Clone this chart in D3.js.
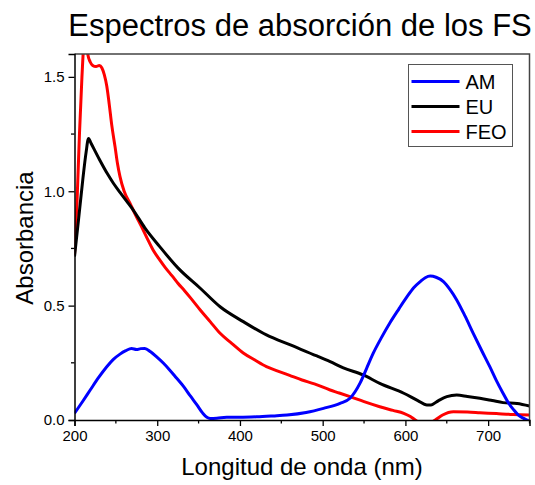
<!DOCTYPE html>
<html>
<head>
<meta charset="utf-8">
<script src="https://cdn.jsdelivr.net/npm/d3@7"></script>
<style>
  body { margin: 0; background: #fff; }
  text { font-family: "Liberation Sans", Arial, sans-serif; fill: #000; }
</style>
</head>
<body>
<div id="chart"></div>
<script>
// wavelengths (nm) and absorbance per spectrum
var amNm = [200, 210, 219, 229, 239, 247, 255, 262, 269, 275, 280, 285, 292, 299, 307, 315, 323, 332, 340, 348, 355, 360, 364, 372, 384, 400, 420, 440, 457, 480, 501, 521, 533, 545, 553, 561, 571, 581, 592, 602, 610, 618, 624, 630, 637, 646, 654, 662, 672, 682, 692, 702, 710, 718, 725, 731, 737, 743, 750];
var amAbs = [0.029, 0.082, 0.131, 0.185, 0.233, 0.265, 0.288, 0.303, 0.313, 0.308, 0.312, 0.313, 0.298, 0.277, 0.25, 0.219, 0.185, 0.146, 0.105, 0.066, 0.03, 0.012, 0.007, 0.008, 0.012, 0.012, 0.014, 0.018, 0.022, 0.033, 0.051, 0.073, 0.095, 0.16, 0.225, 0.291, 0.36, 0.423, 0.485, 0.539, 0.578, 0.605, 0.622, 0.629, 0.624, 0.605, 0.57, 0.525, 0.455, 0.379, 0.305, 0.233, 0.172, 0.117, 0.072, 0.044, 0.02, 0.007, -0.005];

var euNm = [200, 205, 210, 214, 217, 220, 230, 240, 247, 255, 265, 271, 285, 303, 325, 352, 376, 404, 432, 461, 493, 509, 525, 549, 569, 598, 615, 626, 631, 640, 650, 662, 675, 690, 705, 718, 735, 750];
var euAbs = [0.714, 0.88, 1.05, 1.17, 1.231, 1.21, 1.14, 1.075, 1.035, 0.995, 0.947, 0.918, 0.84, 0.758, 0.665, 0.576, 0.495, 0.43, 0.372, 0.328, 0.28, 0.255, 0.228, 0.197, 0.16, 0.117, 0.085, 0.066, 0.066, 0.085, 0.102, 0.109, 0.103, 0.095, 0.085, 0.076, 0.072, 0.061];

var feoNm = [200, 203, 206, 209, 212, 214, 216, 219, 222, 226, 230, 233, 236, 239, 242, 245, 249, 252, 255, 260, 267, 274, 281, 288, 295, 303, 310, 318, 325, 333, 340, 352, 364, 376, 390, 404, 418, 432, 445, 460, 475, 490, 509, 520, 533, 550, 569, 585, 598, 606, 612, 620, 628, 636, 645, 658, 675, 690, 710, 730, 750];
var feoAbs = [0.72, 0.95, 1.25, 1.5, 1.66, 1.66, 1.6, 1.565, 1.55, 1.545, 1.55, 1.54, 1.51, 1.46, 1.38, 1.29, 1.195, 1.12, 1.064, 1.0, 0.948, 0.895, 0.845, 0.793, 0.743, 0.70, 0.665, 0.63, 0.598, 0.565, 0.535, 0.481, 0.43, 0.379, 0.335, 0.293, 0.262, 0.233, 0.215, 0.195, 0.175, 0.158, 0.131, 0.118, 0.102, 0.08, 0.058, 0.042, 0.029, 0.015, 0.0, -0.015, -0.015, 0.0, 0.022, 0.036, 0.035, 0.032, 0.028, 0.024, 0.022];

var seriesNames = ["AM", "EU", "FEO"];
var seriesColors = ["#0000ff", "#000000", "#ff0000"];

var xMajor = [200, 300, 400, 500, 600, 700];
var xMinor = [250, 350, 450, 550, 650, 750];
var yMajor = [0, 0.5, 1.0, 1.5];
var yMinor = [0.25, 0.75, 1.25];

var width = 535, height = 485;
var plotLeft = 74.5, plotRight = 529.5, plotTop = 54, plotBottom = 420;

var svg = d3.select("#chart").append("svg")
    .attr("width", width)
    .attr("height", height);

var xScale = d3.scaleLinear().domain([200, 750]).range([plotLeft, plotRight]);
var yScale = d3.scaleLinear().domain([0, 1.6]).range([plotBottom, plotTop]);

// clip so the curves stay inside the frame
svg.append("clipPath").attr("id", "plotClip")
  .append("rect")
    .attr("x", plotLeft).attr("y", plotTop)
    .attr("width", plotRight - plotLeft).attr("height", plotBottom - plotTop);

var seriesData = [
    d3.zip(amNm, amAbs),
    d3.zip(euNm, euAbs),
    d3.zip(feoNm, feoAbs)
];

var line = d3.line()
    .x(function(d) { return xScale(d[0]); })
    .y(function(d) { return yScale(d[1]); })
    .curve(d3.curveMonotoneX);

var plot = svg.append("g").attr("clip-path", "url(#plotClip)");
// draw order: FEO under EU under AM as in the picture
[2, 1, 0].forEach(function(i) {
    plot.append("path")
        .datum(seriesData[i])
        .attr("d", line)
        .attr("fill", "none")
        .attr("stroke", seriesColors[i])
        .attr("stroke-width", 3)
        .attr("stroke-linejoin", "round");
});

// frame top and right
svg.append("path")
    .attr("d", "M" + plotLeft + "," + plotTop + "H" + plotRight + "V" + plotBottom)
    .attr("fill", "none")
    .attr("stroke", "#444")
    .attr("stroke-width", 1.5);

// bottom axis
var xAxis = d3.axisBottom(xScale)
    .tickValues(xMajor)
    .tickSize(6)
    .tickPadding(4)
    .tickFormat(d3.format("d"));
var gx = svg.append("g")
    .attr("transform", "translate(0," + plotBottom + ")")
    .call(xAxis);
gx.selectAll(".tick line").attr("stroke-width", 1.3);
gx.select(".domain").attr("stroke-width", 1.5);
gx.selectAll(".tick text").attr("font-size", 15);
gx.selectAll(".minor").data(xMinor).enter().append("line")
    .attr("class", "minor")
    .attr("x1", function(d) { return xScale(d); })
    .attr("x2", function(d) { return xScale(d); })
    .attr("y1", 0).attr("y2", 3.5)
    .attr("stroke", "#000").attr("stroke-width", 1.3);

// left axis
var yAxis = d3.axisLeft(yScale)
    .tickValues(yMajor)
    .tickSize(6)
    .tickPadding(4)
    .tickFormat(d3.format(".1f"));
var gy = svg.append("g")
    .attr("transform", "translate(" + plotLeft + ",0)")
    .call(yAxis);
gy.selectAll(".tick line").attr("stroke-width", 1.3);
gy.select(".domain").attr("stroke-width", 1.5);
gy.selectAll(".tick text").attr("font-size", 15);
gy.selectAll(".minor").data(yMinor).enter().append("line")
    .attr("class", "minor")
    .attr("y1", function(d) { return yScale(d); })
    .attr("y2", function(d) { return yScale(d); })
    .attr("x1", 0).attr("x2", -3.5)
    .attr("stroke", "#000").attr("stroke-width", 1.3);

// titles
svg.append("text")
    .attr("x", 300)
    .attr("y", 36)
    .attr("text-anchor", "middle")
    .attr("font-size", 31)
    .text("Espectros de absorción de los FS");

svg.append("text")
    .attr("x", 302)
    .attr("y", 475)
    .attr("text-anchor", "middle")
    .attr("font-size", 24)
    .text("Longitud de onda (nm)");

svg.append("text")
    .attr("transform", "translate(33," + ((plotTop + plotBottom) / 2 + 1) + ")rotate(-90)")
    .attr("text-anchor", "middle")
    .attr("font-size", 24)
    .text("Absorbancia");

// legend
var legend = svg.append("g").attr("transform", "translate(408.5,64.5)");
legend.append("rect")
    .attr("width", 104).attr("height", 82)
    .attr("fill", "#fff")
    .attr("stroke", "#555")
    .attr("stroke-width", 1);
var rows = legend.selectAll(".row").data(seriesNames).enter().append("g")
    .attr("class", "row")
    .attr("transform", function(d, i) { return "translate(0," + (17 + i * 25) + ")"; });
rows.append("line")
    .attr("x1", 3).attr("x2", 51)
    .attr("stroke", function(d, i) { return seriesColors[i]; })
    .attr("stroke-width", 3);
rows.append("text")
    .attr("x", 57)
    .attr("y", 7)
    .attr("font-size", 20)
    .text(function(d) { return d; });
</script>
</body>
</html>
